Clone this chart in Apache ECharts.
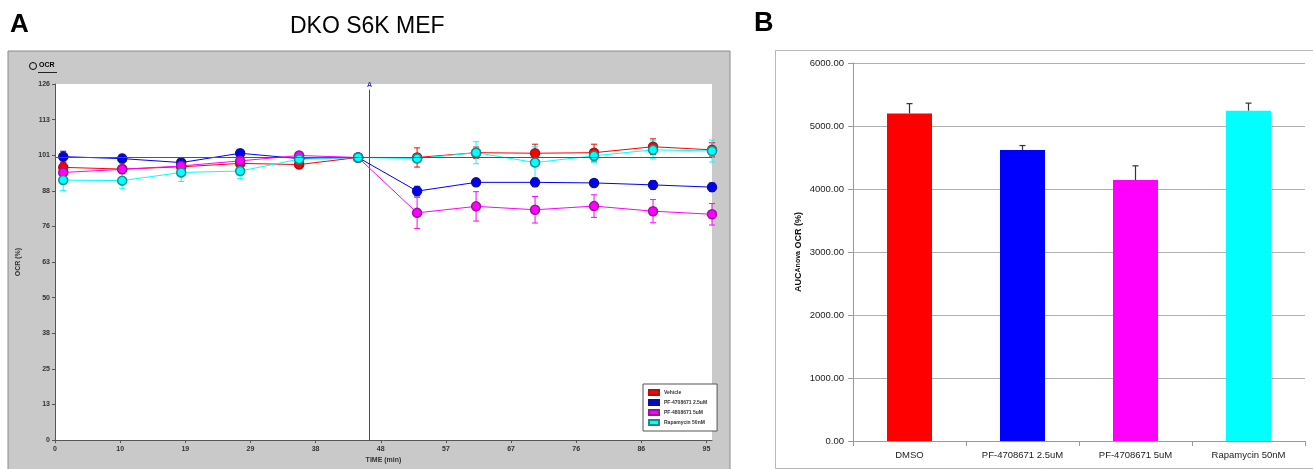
<!DOCTYPE html>
<html>
<head>
<meta charset="utf-8">
<script src="https://cdn.jsdelivr.net/npm/echarts@6/dist/echarts.min.js"></script>
<style>
html,body{margin:0;padding:0;background:#fff;}
#main{width:1313px;height:469px;}
</style>
</head>
<body>
<div id="main"></div>
<script>
// ---------- Panel A data ----------
const times = [1.2, 9.8, 18.4, 27.0, 35.6, 44.2, 52.8, 61.4, 70.0, 78.6, 87.2, 95.8];
const injectionTime = 45.8;
const injectionLabel = 'A';
const seriesNames = ['Vehicle', 'PF-4708671 2.5uM', 'PF-4808671 5uM', 'Rapamycin 50nM'];
const vehicle    = [96.5, 95.9, 96.7, 97.9, 97.5, 100, 100.0, 101.7, 101.5, 101.7, 103.8, 102.7];
const vehicleErr = [1.5, 1.2, 1.0, 1.2, 0.8, 0, 3.4, 2.0, 3.2, 3.0, 2.8, 2.5];
const pf25       = [100.3, 99.6, 98.2, 101.5, 99.6, 100, 88.1, 91.2, 91.2, 91.0, 90.3, 89.5];
const pf25Err    = [1.9, 1.5, 1.0, 1.1, 0.6, 0, 1.7, 1.2, 1.5, 0.8, 1.5, 1.5];
const pf5        = [94.7, 95.8, 97.0, 98.8, 100.7, 100, 80.4, 82.7, 81.5, 82.8, 81.0, 79.9];
const pf5Err     = [3.5, 1.0, 1.0, 1.2, 0.6, 0, 5.5, 5.2, 4.7, 4.0, 4.1, 3.8];
const rapa       = [92.0, 91.8, 94.7, 95.2, 99.4, 100, 99.6, 101.7, 98.2, 100.6, 102.7, 102.3];
const rapaErr    = [3.7, 2.7, 3.2, 2.6, 0.8, 0, 1.0, 3.9, 5.6, 2.5, 3.2, 3.9];

// ---------- Panel B data ----------
const barCategories = ['DMSO', 'PF-4708671 2.5uM', 'PF-4708671 5uM', 'Rapamycin 50nM'];
const barValues = [5200, 4620, 4143, 5243];
const barErrors = [155, 70, 225, 120];

const lineColors = ['#ff0000', '#0000ff', '#ff00ff', '#00ffff'];
const markerBorders = ['#b01010', '#101090', '#a010a0', '#109090'];

const chart = echarts.init(document.getElementById('main'), null, {renderer: 'canvas'});

const lineVals = [vehicle, pf25, pf5, rapa];
const errVals = [vehicleErr, pf25Err, pf5Err, rapaErr];

function errRenderA(color) {
  return function (params, api) {
    const x = api.value(0), y = api.value(1), e = api.value(2);
    if (!e) return null;
    const top = api.coord([x, y + e]);
    const bot = api.coord([x, y - e]);
    const w = 3;
    const st = {stroke: color, lineWidth: 1};
    return {type: 'group', children: [
      {type: 'line', shape: {x1: top[0], y1: top[1], x2: bot[0], y2: bot[1]}, style: st},
      {type: 'line', shape: {x1: top[0]-w, y1: top[1], x2: top[0]+w, y2: top[1]}, style: st},
      {type: 'line', shape: {x1: bot[0]-w, y1: bot[1], x2: bot[0]+w, y2: bot[1]}, style: st}
    ]};
  };
}

const series = [];
// injection marker line
series.push({
  type: 'custom', xAxisIndex: 0, yAxisIndex: 0, z: 1, silent: true,
  renderItem: function (params, api) {
    const top = api.coord([api.value(0), 124]);
    const bot = api.coord([api.value(0), 0]);
    const x = Math.round(top[0]) + 0.5;
    return {type: 'group', children: [
      {type: 'line', shape: {x1: x, y1: top[1], x2: x, y2: bot[1]}, style: {stroke: '#3c3cd6', lineWidth: 1}},
      {type: 'text', style: {text: injectionLabel, x: x, y: top[1] - 1, align: 'center', verticalAlign: 'bottom',
        font: 'bold 7px "Liberation Sans"', fill: '#3a3ab0'}}
    ]};
  },
  data: [[injectionTime]]
});
lineVals.forEach(function (vals, k) {
  series.push({
    type: 'custom', xAxisIndex: 0, yAxisIndex: 0, z: 1, silent: true,
    name: seriesNames[k] + ' err',
    renderItem: errRenderA(lineColors[k]),
    data: times.map(function (t, i) { return [t, vals[i], errVals[k][i]]; })
  });
});
lineVals.forEach(function (vals, k) {
  const s = {
    type: 'line', name: seriesNames[k], xAxisIndex: 0, yAxisIndex: 0, z: 3,
    data: times.map(function (t, i) { return [t, vals[i]]; }),
    symbol: 'circle', symbolSize: 9,
    lineStyle: {color: lineColors[k], width: 1},
    itemStyle: {color: lineColors[k], borderColor: markerBorders[k], borderWidth: 1.5},
    emphasis: {disabled: true},
    animation: false
  };
  if (k === 0) {
    s.markLine = {
      silent: true, symbol: 'none', animation: false,
      lineStyle: {color: '#555', width: 1.2, type: 'solid'},
      label: {show: false},
      data: [{yAxis: 100}]
    };
  }
  series.push(s);
});

series.push({
  type: 'bar', xAxisIndex: 1, yAxisIndex: 1, barWidth: 45, z: 2,
  data: barValues.map(function (v, i) { return {value: v, itemStyle: {color: lineColors[i]}}; }),
  animation: false
});
series.push({
  type: 'custom', xAxisIndex: 1, yAxisIndex: 1, z: 3, silent: true,
  renderItem: function (params, api) {
    const i = api.value(0), v = api.value(1), e = api.value(2);
    const base = api.coord([i, v]);
    const top = api.coord([i, v + e]);
    const st = {stroke: '#333', lineWidth: 1.2};
    return {type: 'group', children: [
      {type: 'line', shape: {x1: base[0], y1: base[1], x2: top[0], y2: top[1]}, style: st},
      {type: 'line', shape: {x1: top[0]-3, y1: top[1], x2: top[0]+3, y2: top[1]}, style: st}
    ]};
  },
  data: barValues.map(function (v, i) { return [i, v, barErrors[i]]; })
});

const axisFontA = {fontFamily: 'Liberation Sans', fontSize: 7, fontWeight: 'bold', color: '#333'};

chart.setOption({
  animation: false,
  graphic: [
    {type: 'rect', z: -10, shape: {x: 8, y: 51, width: 722, height: 420}, style: {fill: '#c9c9c9', stroke: '#8a8a8a', lineWidth: 1}},
    {type: 'rect', z: -10, shape: {x: 775.5, y: 50.5, width: 540, height: 418}, style: {fill: '#fff', stroke: '#b8b8b8', lineWidth: 1}},
    {type: 'text', left: 10, top: 12, style: {text: 'A', fontFamily: 'Liberation Sans', fontWeight: 'bold', fontSize: 26, fill: '#000'}},
    {type: 'text', left: 754, top: 10, style: {text: 'B', fontFamily: 'Liberation Sans', fontWeight: 'bold', fontSize: 27, fill: '#000'}},
    {type: 'text', left: 290, top: 15, style: {text: 'DKO S6K MEF', font: '23px "Liberation Sans"', fill: '#000'}},
    {type: 'circle', shape: {cx: 33, cy: 66, r: 3.5}, style: {fill: 'none', stroke: '#000', lineWidth: 1}},
    {type: 'text', left: 39, top: 62, style: {text: 'OCR', font: 'bold 7px "Liberation Sans"', fill: '#000'}},
    {type: 'line', shape: {x1: 38, y1: 72.5, x2: 57, y2: 72.5}, style: {stroke: '#222', lineWidth: 1}}
  ],
  legend: {
    data: seriesNames,
    orient: 'vertical', left: 643, top: 384,
    icon: 'rect', itemWidth: 10, itemHeight: 5, itemGap: 3,
    padding: [5, 10, 5, 5],
    backgroundColor: '#fff', borderColor: '#555', borderWidth: 1,
    textStyle: {fontFamily: 'Liberation Sans', fontSize: 5, fontWeight: 'bold', color: '#333'},
    selectedMode: false
  },
  grid: [
    {left: 55, width: 657, top: 84, height: 360, show: true, backgroundColor: '#fff', borderWidth: 0, containLabel: false},
    {left: 853, width: 452, top: 63, height: 378, show: false, containLabel: false}
  ],
  xAxis: [
    {
      type: 'value', gridIndex: 0, min: 0, max: 95.8, interval: 9.5,
      name: 'TIME (min)', nameLocation: 'middle', nameGap: 14,
      nameTextStyle: axisFontA,
      axisLine: {show: true, lineStyle: {color: '#555', width: 1}},
      axisTick: {show: true, length: 3, lineStyle: {color: '#555'}},
      splitLine: {show: false},
      axisLabel: Object.assign({margin: 5, showMaxLabel: false, formatter: function (v) { return String(Math.round(v)); }}, axisFontA)
    },
    {
      type: 'category', gridIndex: 1, data: barCategories,
      axisLine: {show: true, lineStyle: {color: '#9a9a9a', width: 1}},
      axisTick: {show: true, length: 5, lineStyle: {color: '#9a9a9a'}},
      axisLabel: {fontFamily: 'Liberation Sans', fontSize: 9.5, color: '#222', margin: 9},
      splitLine: {show: false}
    }
  ],
  yAxis: [
    {
      type: 'value', gridIndex: 0, min: 0, max: 126, interval: 12.6,
      name: 'OCR (%)', nameLocation: 'middle', nameGap: 33, nameRotate: 90,
      nameTextStyle: axisFontA,
      axisLine: {show: true, lineStyle: {color: '#555', width: 1}},
      axisTick: {show: true, length: 3, lineStyle: {color: '#555'}},
      splitLine: {show: false},
      axisLabel: Object.assign({margin: 5, formatter: function (v) { return String(Math.round(v)); }}, axisFontA)
    },
    {
      type: 'value', gridIndex: 1, min: 0, max: 6000, interval: 1000,
      name: '{a|AUC}{b|Anova}{a| OCR (%)}', nameLocation: 'middle', nameGap: 50, nameRotate: 90,
      nameTextStyle: {rich: {
        a: {fontFamily: 'Liberation Sans', fontSize: 9, fontWeight: 'bold', color: '#111'},
        b: {fontFamily: 'Liberation Sans', fontSize: 7, fontWeight: 'bold', color: '#111'}
      }},
      axisLine: {show: true, lineStyle: {color: '#9a9a9a', width: 1}},
      axisTick: {show: true, length: 5, lineStyle: {color: '#9a9a9a'}},
      splitLine: {show: true, lineStyle: {color: '#b0b0b0', width: 1}},
      axisLabel: {fontFamily: 'Liberation Sans', fontSize: 9.5, color: '#222', margin: 9,
        formatter: function (v) { return v.toFixed(2); }}
    }
  ],
  series: series
});
</script>
</body>
</html>
